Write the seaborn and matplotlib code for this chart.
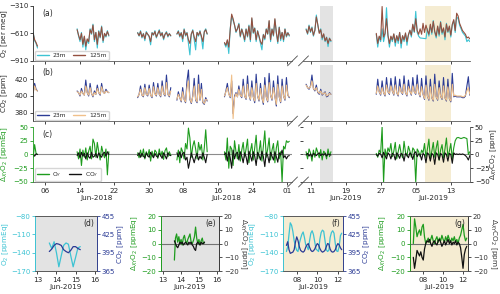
import matplotlib
matplotlib.use("Agg")
import matplotlib.pyplot as plt
import matplotlib.dates as mdates
from matplotlib.lines import Line2D
import numpy as np
import pandas as pd
import seaborn as sns

sns.set_style("ticks")
plt.rcParams.update({
    "font.family": ["DejaVu Sans"],
    "font.size": 5.2,
    "axes.linewidth": 0.6,
    "xtick.major.size": 2.5,
    "ytick.major.size": 2.5,
    "xtick.major.width": 0.6,
    "ytick.major.width": 0.6,
    "xtick.major.pad": 1.5,
    "ytick.major.pad": 1.0,
    "xtick.labelsize": 5.2,
    "ytick.labelsize": 5.0,
    "axes.labelsize": 5.2,
})

# ---------------------------------------------------------------
# Data (8-hourly values, one block per run)
# ---------------------------------------------------------------
seg_start = ["2018-06-03 06:00", "2018-06-13 10:00", "2018-06-27 10:00",
             "2018-07-06 12:00", "2018-07-17 12:00", "2019-06-09 22:00",
             "2019-06-25 22:00"]
seg_len = [4, 23, 24, 22, 46, 18, 65]

o2_23m = [
    -600, -690, -720, -770,
    -560, -640, -700, -600, -760, -650, -790, -680, -720, -560, -620, -510,
    -700, -600, -770, -580, -660, -530, -710, -610, -650, -580, -640,
    -600, -640, -580, -660, -610, -690, -590, -620, -650, -735, -600, -630,
    -580, -660, -610, -570, -640, -600, -680, -620, -590, -650, -610, -640,
    -620, -580, -650, -600, -700, -560, -640, -600, -720, -845, -620, -570,
    -680, -790, -600, -640, -580, -660, -780, -590, -560, -620,
    -720, -760, -690, -830, -560, -420, -470, -520, -600, -560, -500, -650,
    -560, -620, -700, -560, -650, -520, -700, -450, -610, -550, -700, -580,
    -650, -720, -790, -620, -680, -560, -620, -480, -700, -560, -640, -460,
    -600, -720, -540, -690, -600, -700, -560, -650, -600, -640,
    -560, -620, -520, -600, -540, -640, -580, -410, -520, -600, -560, -680,
    -620, -700, -650, -754, -660, -700,
    -620, -760, -650, -700, -560, -700, -620, -330, -640, -760,
    -650, -700, -620, -750, -640, -720, -600, -770, -640, -700,
    -610, -740, -630, -580, -650, -520, -600, -370, -600, -640,
    -660, -662, -664, -666, -668, -560, -640, -520, -620, -470,
    -600, -660, -540, -640, -480, -620, -560, -680, -500, -600,
    -540, -650, -520, -470, -600, -430, -450, -520, -560, -600,
    -620, -640, -700, -680, -700,
]
o2_125m = [
    -610, -680, -710, -750,
    -570, -630, -680, -610, -730, -640, -750, -670, -700, -570, -610, -520,
    -680, -600, -730, -590, -650, -540, -690, -610, -640, -590, -630,
    -605, -635, -590, -650, -615, -670, -600, -620, -640, -700, -605, -625,
    -590, -650, -615, -580, -635, -605, -665, -620, -600, -640, -615, -635,
    -615, -590, -640, -605, -670, -570, -630, -605, -680, -720, -615, -580,
    -650, -700, -600, -630, -590, -640, -700, -595, -570, -615,
    -710, -740, -680, -760, -570, -400, -450, -520, -590, -560, -510, -640,
    -565, -615, -680, -565, -640, -530, -680, -440, -600, -555, -680, -585,
    -640, -700, -730, -625, -665, -565, -615, -470, -680, -565, -630, -450,
    -600, -700, -545, -670, -600, -680, -565, -640, -605, -630,
    -570, -610, -530, -590, -550, -630, -575, -430, -515, -610, -570, -660,
    -615, -690, -655, -720, -665, -690,
    -610, -720, -640, -680, -317, -650, -610, -450, -630, -720,
    -640, -680, -615, -710, -635, -690, -600, -720, -635, -680,
    -605, -700, -625, -575, -630, -510, -590, -450, -580, -620,
    -560, -620, -500, -600, -520, -580, -620, -510, -600, -480,
    -590, -640, -530, -620, -490, -600, -550, -650, -510, -590,
    -530, -630, -510, -460, -580, -390, -420, -500, -540, -580,
    -600, -620, -660, -650, -670,
]
co2_23m = [
    404, 415, 408, 406,
    406, 404, 400, 409, 403, 401, 419, 404, 400, 415, 403, 399,
    406, 402, 413, 404, 401, 415, 405, 403, 408, 405, 404,
    398, 402, 412, 401, 399, 414, 402, 400, 413, 401, 398, 416,
    403, 400, 415, 402, 399, 418, 403, 400, 425, 402, 399, 410,
    395, 405, 398, 393, 410, 396, 392, 418, 431, 396, 391, 400,
    421, 395, 392, 425, 395, 415, 392, 390, 398, 394,
    399, 406, 415, 403, 398, 418, 379, 400, 404, 399, 412, 401,
    398, 420, 400, 396, 424, 401, 395, 418, 399, 392, 426, 400,
    394, 415, 398, 390, 422, 399, 393, 427, 401, 395, 418, 400,
    388, 424, 399, 392, 420, 400, 395, 422, 401, 398,
    414, 410, 408, 412, 425, 409, 406, 413, 404, 402, 408, 401,
    403, 405, 399, 400, 404, 402,
    402, 420, 405, 401, 418, 404, 400, 422, 405, 402,
    421, 406, 401, 423, 404, 400, 420, 405, 402, 424,
    404, 400, 419, 406, 401, 422, 405, 402, 425, 404,
    399, 421, 402, 396, 424, 400, 395, 420, 398, 394,
    426, 399, 395, 418, 400, 396, 422, 398, 394, 420,
    397, 393, 427, 399, 400, 399, 399, 399, 399, 398,
    398, 400, 412, 423, 401,
]
co2_125m = [
    404, 412, 407, 406,
    405, 404, 401, 406, 403, 401, 412, 404, 401, 410, 403, 400,
    404, 402, 409, 404, 402, 411, 405, 403, 406, 405, 404,
    399, 402, 408, 401, 400, 410, 402, 401, 409, 401, 399, 411,
    402, 401, 410, 402, 400, 412, 403, 401, 416, 402, 400, 406,
    396, 402, 398, 394, 405, 396, 393, 410, 418, 397, 392, 399,
    412, 396, 393, 414, 396, 408, 393, 391, 396, 395,
    400, 405, 410, 402, 399, 425, 373, 398, 403, 399, 408, 401,
    399, 412, 400, 397, 414, 401, 396, 410, 399, 394, 415, 400,
    395, 409, 398, 392, 413, 399, 394, 416, 401, 396, 410, 400,
    390, 414, 399, 393, 412, 400, 396, 413, 401, 399,
    413, 410, 409, 411, 418, 409, 407, 410, 405, 403, 406, 402,
    403, 404, 400, 401, 403, 402,
    403, 412, 405, 402, 410, 404, 401, 413, 405, 403,
    412, 406, 402, 413, 404, 401, 411, 405, 403, 414,
    404, 401, 411, 406, 402, 412, 405, 403, 414, 404,
    400, 411, 402, 397, 413, 400, 396, 411, 398, 395,
    414, 399, 396, 410, 400, 397, 412, 398, 395, 411,
    397, 394, 414, 400, 401, 400, 400, 400, 400, 399,
    399, 401, 406, 410, 402,
]
d_o2 = [
    -5, 18, 2, 0,
    5, -8, 10, -20, 8, -5, 12, -10, 6, 15, -8, 28,
    20, -5, 22, 5, -10, 15, 3, -6, 10, -37, 5,
    3, -6, 8, -4, 10, -8, 5, -3, 9, -12, 6, -5,
    8, 4, -7, 10, -3, 6, -9, 7, 12, -4, 5, -2,
    -10, 8, -15, 12, 5, -8, 20, 10, 48, 30, -5, 15,
    25, 10, -8, 22, 8, 18, -10, 12, 45, 5,
    5, -10, 30, -25, 15, 10, -20, 25, 5, -8, 18, -12,
    8, 22, -5, 10, 28, -15, 6, 20, -10, 12, 35, -8,
    5, 25, -12, 15, 43, -5, 10, 30, -10, 8, 20, -15,
    12, 25, -8, 5, -50, 15, 10, 25, 22, 24,
    5, -8, 10, 3, -12, 8, -5, 12, 4, -6, 9, -10,
    6, 3, -8, 10, -4, 5,
    2, -5, 8, 3, 50, -50, 10, -3, 12, 5,
    20, -4, 6, 22, -8, 5, 18, 2, -6, 24,
    4, -3, 15, 6, -5, 12, 8, -50, 10, 5,
    -4, 8, 3, 20, -6, 10, 28, -8, 6, 22,
    -5, 12, 25, -10, 8, 18, -6, 10, 30, -4,
    6, 20, -8, 12, 25, 30, 31, 30, 29, 30,
    31, 30, 29, 0, 5,
]
d_co2 = [
    0, -3, 1, 0,
    -2, 3, -6, 4, -3, 2, -8, 3, -4, -7, 4, -5,
    -3, 2, -6, 3, -2, -5, 2, 4, -3, 5, 0,
    -2, 3, -5, 2, -3, -6, 3, -2, -5, 4, -1, -6,
    2, -3, -5, 2, -2, -7, 3, -2, -8, 3, -1, -2,
    3, -4, 5, -6, 2, 4, -10, -5, -25, -12, 3, -6,
    -15, -4, 2, -10, -3, -8, 3, -5, -15, 0,
    0, 3, -12, 5, -6, -25, 8, -8, 2, 4, -10, 5,
    -3, -15, 3, -4, -18, 6, -2, -12, 5, -3, -20, 4,
    -2, -10, 6, -4, -22, 3, -2, -15, 4, -3, -10, 5,
    -4, -14, 3, -1, 8, -6, -2, -8, -3, -2,
    -1, 2, -3, 1, -4, 2, 0, -2, 1, 3, -2, 1,
    -1, 2, -3, 1, 0, -1,
    0, -3, 2, 1, -6, 4, -2, -8, 3, 0,
    -8, 2, 0, -10, 3, -1, -7, 2, 0, -12,
    2, -1, -6, 3, 0, -9, 2, 5, -4, 1,
    0, -10, 2, -1, -15, 3, 0, -12, 2, -1,
    -18, 3, 0, -10, 2, -1, -14, 3, 0, -12,
    2, 0, -16, 3, 0, 1, 0, 1, 0, 1,
    0, -2, -5, -10, -2,
]

# zoom panels (d)/(e): 13-15 Jun 2019
zoom_jun_start = "2019-06-13 15:00"
o2_ppmeq_jun = [-124, -133, -122, -140, -163, -145, -128, -124, -126, -145,
                -163, -148, -132, -130]
co2_jun = [397, 401, 407, 410, 409, 407, 400, 397, 395, 399, 405, 405, 402, 400]
d_o2_jun = [-12, 4, 7, 1, 5, 0, 3, -1, 4, 6, 2, 0, 3, 5, 7, 1, 0, 2, 5, 12,
            4, 0, 3, -1, 2, 4, 0, 1]
d_co2_jun = [2, 0, -2, -3, -1, 1, 0, 1, -1, 0, 1, 0, -1, 1, 0, 1, -1, -2, -4,
             -5, 0, 1, 0, -1, 1, 0, 0, 1]

# zoom panels (f)/(g): 7-12 Jul 2019 (3-hourly)
zoom_jul_start = "2019-07-07 00:00"
o2_ppmeq_jul = [
    -138, -130, -110, -91, -95, -105, -120, -130,
    -136, -138, -125, -117, -110, -106, -115, -127,
    -130, -135, -120, -108, -104, -110, -122, -134,
    -136, -138, -118, -107, -103, -105, -120, -135,
    -138, -136, -115, -107, -104, -108, -125, -137,
    -138, -130, -112, -108,
]
co2_jul = [
    407, 413, 400, 394, 395, 396, 400, 412,
    421, 415, 405, 399, 397, 396, 398, 404,
    408, 410, 404, 399, 397, 398, 401, 406,
    410, 408, 402, 398, 396, 397, 399, 405,
    410, 409, 401, 397, 396, 397, 400, 406,
    410, 408, 403, 400,
]
d_o2_jul = [0, 18, 12, 5, 8, 10, 6, 12, 14, 5, 0, 2, 4, 1, 3, 6, 2, 0, 3, 5,
            1, 4, 2, 6, 3, 1, 5, 2, 6, 3, 1, 4, 2, 5, 1, 3, 0, 4, 6, 10,
            14, 6, 2, 4]
d_co2_jul = [-10, -18, -12, -5, -7, -9, -6, -10, -12, -4, 0, 2, 1, 3, 0, -2,
             1, 2, 0, -1, 2, 3, 1, -2, 0, 2, -1, 1, 3, 0, 2, -1, 1, 0, 2, -1,
             1, 0, -3, -10, -18, -8, -4, -2]

# colours
C23 = "#3cc3d3"
C125 = "#94503f"
CNAVY = "#2b3b95"
CORANGE = "#f0c08a"
CGREEN = "#1e9c1e"
CBLACK = "#111111"
SHADE_GRAY = "#e3e3e3"
SHADE_YEL = "#f5ecd2"

# ---------------------------------------------------------------
# Build frames
# ---------------------------------------------------------------
times, segs = [], []
for i, (s, n) in enumerate(zip(seg_start, seg_len)):
    times.extend(pd.date_range(s, periods=n, freq="8h"))
    segs.extend([i] * n)
df = pd.DataFrame({"time": times, "seg": segs, "o2_23m": o2_23m,
                   "o2_125m": o2_125m, "co2_23m": co2_23m,
                   "co2_125m": co2_125m, "d_o2": d_o2, "d_co2": d_co2})

jun3 = pd.DataFrame({"time": pd.date_range(zoom_jun_start, periods=len(o2_ppmeq_jun), freq="3h"),
                     "o2": o2_ppmeq_jun, "co2": co2_jun})
jun15 = pd.DataFrame({"time": pd.date_range(zoom_jun_start, periods=len(d_o2_jun), freq="90min"),
                      "d_o2": d_o2_jun, "d_co2": d_co2_jun})
jul = pd.DataFrame({"time": pd.date_range(zoom_jul_start, periods=len(o2_ppmeq_jul), freq="3h"),
                    "o2": o2_ppmeq_jul, "co2": co2_jul,
                    "d_o2": d_o2_jul, "d_co2": d_co2_jul})

# ---------------------------------------------------------------
# Figure
# ---------------------------------------------------------------
fig = plt.figure(figsize=(5.0, 2.94), dpi=100)

left_lim = (pd.Timestamp("2018-06-03 05:00"), pd.Timestamp("2018-08-02 03:00"))
right_lim = (pd.Timestamp("2019-06-09 05:00"), pd.Timestamp("2019-07-17 07:00"))
left_ticks = pd.date_range("2018-06-06", periods=8, freq="8D")
right_ticks = pd.date_range("2019-06-11", periods=5, freq="8D")

rows = [(0.793, 0.187), (0.588, 0.191), (0.381, 0.187)]
panels = []
for bottom, h in rows:
    axL = fig.add_axes([0.066, bottom, 0.518, h])
    axR = fig.add_axes([0.606, bottom, 0.334, h], sharey=axL)
    panels.append((axL, axR))


def line(ax, data, y, color, lw=0.8):
    sns.lineplot(data=data, x="time", y=y, units="seg", estimator=None,
                 color=color, lw=lw, ax=ax, legend=False)


def small_legend(ax, colors, labels):
    ax.legend([Line2D([], [], color=c, lw=1) for c in colors], labels,
              loc="lower left", ncol=2, fontsize=4.3, handlelength=2.0,
              handletextpad=0.6, columnspacing=1.3, borderpad=0.35,
              bbox_to_anchor=(0.006, 0.015), borderaxespad=0, fancybox=True)


for r, (axL, axR) in enumerate(panels):
    axR.axvspan(pd.Timestamp("2019-06-13"), pd.Timestamp("2019-06-16"),
                color=SHADE_GRAY, lw=0, zorder=0)
    axR.axvspan(pd.Timestamp("2019-07-07"), pd.Timestamp("2019-07-13"),
                color=SHADE_YEL, lw=0, zorder=0)
    for ax in (axL, axR):
        if r == 0:
            line(ax, df, "o2_23m", C23)
            line(ax, df, "o2_125m", C125)
        elif r == 1:
            line(ax, df, "co2_23m", CNAVY)
            line(ax, df, "co2_125m", CORANGE)
        else:
            ax.axhline(0, color="0.55", lw=0.8, zorder=1)
            line(ax, df, "d_o2", CGREEN)
            line(ax, df, "d_co2", CBLACK)
        ax.set_xlabel("")
        ax.set_ylabel("")
        ax.xaxis.set_major_formatter(mdates.DateFormatter("%d"))
        ax.spines["top"].set_visible(False)
        ax.spines["right"].set_visible(False)
        ax.spines["bottom"].set_color("0.35")
    axL.set_xlim(*left_lim)
    axR.set_xlim(*right_lim)
    axL.set_xticks(left_ticks)
    axR.set_xticks(right_ticks)
    axR.spines["left"].set_visible(False)
    axR.tick_params(axis="y", left=False, labelleft=False)
    if r < 2:
        axL.tick_params(axis="x", labelbottom=False)
        axR.tick_params(axis="x", labelbottom=False)

# (a)
axL, axR = panels[0]
axL.set_ylim(-910, -310)
axL.set_yticks([-910, -610, -310])
axL.set_ylabel("O$_2$ [per meg]")
small_legend(axL, [C23, C125], ["23m", "125m"])
# (b)
axL, axR = panels[1]
axL.set_ylim(370, 437)
axL.set_yticks([380, 400, 420])
axL.set_ylabel("CO$_2$ [ppm]")
small_legend(axL, [CNAVY, CORANGE], ["23m", "125m"])
# (c)
axL, axR = panels[2]
axL.set_ylim(-50, 50)
axL.set_yticks([-50, -25, 0, 25, 50])
axL.set_ylabel("Δ$_{XY}$O$_2$ [ppmEq]", color=CGREEN)
axL.tick_params(axis="y", colors=CGREEN)
axL.spines["left"].set_color(CGREEN)
small_legend(axL, [CGREEN, CBLACK], ["O$_Y$", "CO$_Y$"])
axT = axR.twinx()
axT.set_ylim(-50, 50)
axT.set_yticks([-50, -25, 0, 25, 50])
axT.set_ylabel("Δ$_{XY}$CO$_2$ [ppm]")
axT.yaxis.set_label_coords(1.145, 0.5)
axT.yaxis.label.set_va("center")
for s in ("top", "left", "bottom"):
    axT.spines[s].set_visible(False)
axT.spines["right"].set_color("0.35")

for (axL, axR), letter in zip(panels, ["(a)", "(b)", "(c)"]):
    axL.text(0.035, 0.86, letter, transform=axL.transAxes, fontsize=5.5,
             ha="left", va="center")
    axL.yaxis.set_label_coords(-0.110, 0.5)
    axL.yaxis.label.set_va("center")

# month labels under (c)
axL, axR = panels[2]
for ax, d, txt in [(axL, "2018-06-18", "Jun-2018"), (axL, "2018-07-18", "Jul-2018"),
                   (axR, "2019-06-19", "Jun-2019"), (axR, "2019-07-09", "Jul-2019")]:
    ax.text(mdates.date2num(pd.Timestamp(d)), -0.29, txt, fontsize=5.2,
            ha="center", va="center", transform=ax.get_xaxis_transform())

# break marks
for bottom, h in rows:
    yb = bottom * 294
    for xc in (292.5, 303.5):
        fig.add_artist(Line2D([(xc - 5) / 500, (xc + 5) / 500],
                              [(yb - 5) / 294, (yb + 5) / 294],
                              color="0.3", lw=0.6))

# ---------------------------------------------------------------
# bottom zoom panels
# ---------------------------------------------------------------
jun_lim = (pd.Timestamp("2019-06-12 21:00"), pd.Timestamp("2019-06-16 03:00"))
jul_lim = (pd.Timestamp("2019-07-06 16:00"), pd.Timestamp("2019-07-12 12:00"))
jun_ticks = pd.date_range("2019-06-13", periods=4, freq="D")
jul_ticks = pd.date_range("2019-07-08", periods=3, freq="2D")

specs = [
    ([0.070, 0.078, 0.124, 0.187], "o2", jun3, SHADE_GRAY, jun_lim, jun_ticks,
     "Jun-2019", "(d)", (-0.47, 1.385)),
    ([0.322, 0.078, 0.116, 0.187], "d", jun15, SHADE_GRAY, jun_lim, jun_ticks,
     "Jun-2019", "(e)", (-0.45, 1.42)),
    ([0.566, 0.078, 0.120, 0.187], "o2", jul, SHADE_YEL, jul_lim, jul_ticks,
     "Jul-2019", "(f)", (-0.50, 1.40)),
    ([0.820, 0.078, 0.116, 0.187], "d", jul, SHADE_YEL, jul_lim, jul_ticks,
     "Jul-2019", "(g)", (-0.47, 1.43)),
]
for rect, kind, data, bg, lim, ticks, xl, letter, (lx, rx) in specs:
    ax = fig.add_axes(rect)
    ax.set_facecolor(bg)
    tw = ax.twinx()
    if kind == "o2":
        sns.lineplot(data=data, x="time", y="o2", color=C23, lw=0.9, ax=ax)
        sns.lineplot(data=data, x="time", y="co2", color=CNAVY, lw=0.9, ax=tw)
        ax.set_ylim(-170, -80)
        ax.set_yticks([-170, -140, -110, -80])
        tw.set_ylim(365, 455)
        tw.set_yticks([365, 395, 425, 455])
        ax.set_ylabel("O$_2$ [ppmEq]", color=C23)
        tw.set_ylabel("CO$_2$ [ppm]", color=CNAVY)
        ax.tick_params(axis="y", colors=C23)
        tw.tick_params(axis="y", colors=CNAVY)
        lc, rc = C23, CNAVY
    else:
        ax.axhline(0, color="0.45", lw=0.8)
        sns.lineplot(data=data, x="time", y="d_o2", color=CGREEN, lw=0.9, ax=ax)
        sns.lineplot(data=data, x="time", y="d_co2", color=CBLACK, lw=0.9, ax=tw)
        ax.set_ylim(-20, 20)
        ax.set_yticks([-20, -10, 0, 10, 20])
        tw.set_ylim(-20, 20)
        tw.set_yticks([-20, -10, 0, 10, 20])
        ax.set_ylabel("Δ$_{XY}$O$_2$ [ppmEq]", color=CGREEN)
        tw.set_ylabel("Δ$_{XY}$CO$_2$ [ppm]", color="0.2", rotation=270)
        ax.tick_params(axis="y", colors=CGREEN)
        tw.tick_params(axis="y", colors="0.2")
        lc, rc = CGREEN, "0.2"
    ax.set_xlim(*lim)
    ax.set_xticks(ticks)
    ax.xaxis.set_major_formatter(mdates.DateFormatter("%d"))
    ax.set_xlabel(xl, labelpad=1)
    tw.set_xlabel("")
    ax.yaxis.set_label_coords(lx, 0.5)
    tw.yaxis.set_label_coords(rx, 0.5)
    ax.yaxis.label.set_va("center")
    tw.yaxis.label.set_va("center")
    for a in (ax, tw):
        for s in a.spines.values():
            s.set_color("0.35")
    ax.spines["left"].set_color(lc)
    tw.spines["left"].set_color(lc)
    tw.spines["right"].set_color(rc)
    ax.text(0.95, 0.87, letter, transform=ax.transAxes, fontsize=5.5,
            ha="right", va="center")

fig.savefig("out.png", dpi=100)
